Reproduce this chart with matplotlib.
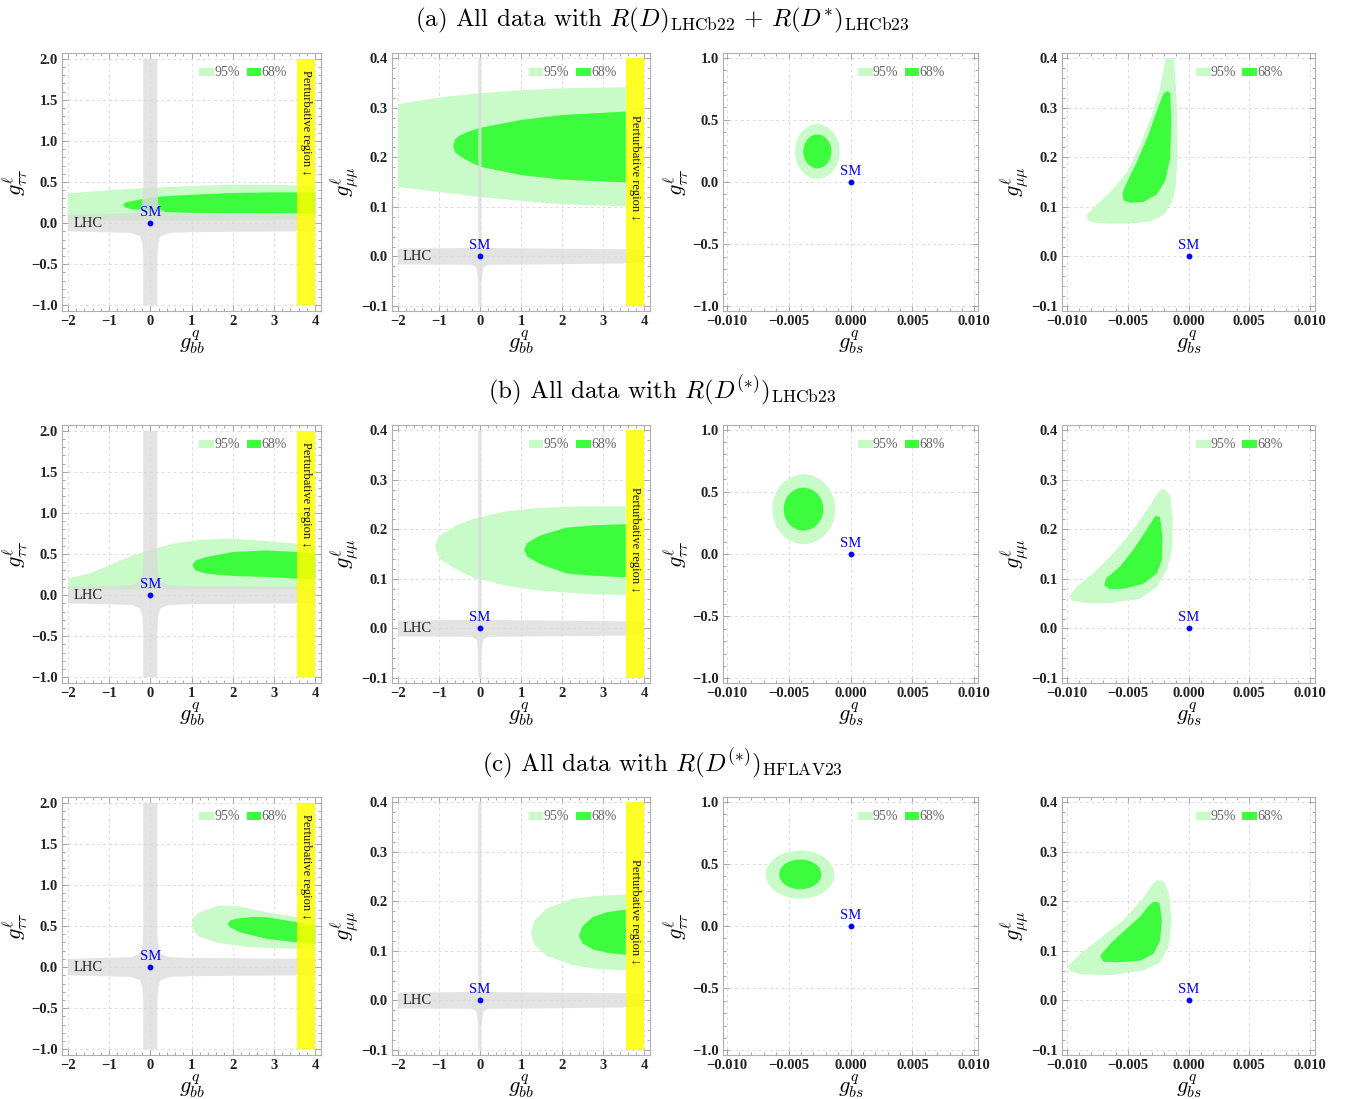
import numpy as np
import matplotlib
matplotlib.use('Agg')
import matplotlib.pyplot as plt
from matplotlib.patches import Polygon, Ellipse, Rectangle
from matplotlib.ticker import MultipleLocator, AutoMinorLocator, FuncFormatter

plt.rcParams['mathtext.fontset'] = 'cm'
plt.rcParams['font.family'] = ['Liberation Serif', 'DejaVu Serif']

# ---------------- data ----------------
row_titles = [r'(a) All data with $R(D)_{\rm LHCb22}\,+\,R(D^{*})_{\rm LHCb23}$',
              r'(b) All data with $R(D^{(*)})_{\rm LHCb23}$',
              r'(c) All data with $R(D^{(*)})_{\rm HFLAV23}$']
x_labels = [r'$g^{q}_{bb}$', r'$g^{q}_{bb}$', r'$g^{q}_{bs}$', r'$g^{q}_{bs}$']
y_labels = [r'$g^{\ell}_{\tau\tau}$', r'$g^{\ell}_{\mu\mu}$', r'$g^{\ell}_{\tau\tau}$', r'$g^{\ell}_{\mu\mu}$']
levels = ['95%', '68%']
sm_point = (0.0, 0.0)
pert_x = (3.55, 4.0)       # perturbative limit band in g_bb

# LHC allowed regions (g_bb plane)
LHC_TAU = [(-0.17, 2.0), (0.17, 2.0), (0.17, 0.45), (0.19, 0.25), (0.25, 0.16), (0.45, 0.12), (1.0, 0.11),
           (4.0, 0.10), (4.0, -0.10), (1.0, -0.11), (0.45, -0.12), (0.25, -0.16), (0.19, -0.25), (0.17, -0.45),
           (0.17, -1.0), (-0.17, -1.0), (-0.17, -0.45), (-0.19, -0.25), (-0.25, -0.16), (-0.45, -0.12),
           (-2.0, -0.10), (-2.0, 0.10), (-0.45, 0.12), (-0.25, 0.16), (-0.19, 0.25), (-0.17, 0.45)]
LHC_MU = [(-0.04, 0.4), (0.04, 0.4), (0.04, 0.03), (0.08, 0.02), (0.2, 0.017), (4.0, 0.014), (4.0, -0.014),
          (0.2, -0.017), (0.08, -0.022), (0.04, -0.05), (0.04, -0.1), (-0.04, -0.1), (-0.04, -0.05),
          (-0.08, -0.022), (-0.2, -0.017), (-2.0, -0.016), (-2.0, 0.016), (-0.2, 0.017), (-0.08, 0.02),
          (-0.04, 0.03)]

# column 1: g_bb vs g_tautau
A1_95 = [(-2, 0.36), (-1, 0.40), (0, 0.43), (1, 0.45), (2, 0.468), (3, 0.465), (4, 0.45),
         (4, 0.04), (2, 0.035), (0, 0.03), (-2, 0.04)]
A1_68 = [(-0.66, 0.22), (-0.6, 0.25), (-0.42, 0.27), (-0.1, 0.30), (0.2, 0.32), (1, 0.345), (2, 0.366),
         (3, 0.374), (4, 0.374), (4, 0.115), (3, 0.12), (2, 0.12), (1, 0.125), (0.3, 0.135), (-0.2, 0.16),
         (-0.45, 0.17), (-0.6, 0.19)]
B1_95 = [(-2, 0.2), (-1.49, 0.261), (-0.99, 0.362), (-0.42, 0.484), (-0.02, 0.544), (0.55, 0.625),
         (1.2, 0.674), (2.0, 0.686), (2.82, 0.657), (3.55, 0.625), (4.0, 0.605), (4.0, 0.07), (2, 0.07),
         (0, 0.07), (-2, 0.06)]
B1_68 = [(1.02, 0.362), (1.1, 0.42), (1.36, 0.463), (2.01, 0.524), (2.82, 0.544), (3.55, 0.524), (4, 0.504),
         (4, 0.192), (3.55, 0.2), (2.82, 0.221), (2.01, 0.233), (1.36, 0.261), (1.1, 0.30)]
C1_95 = [(1.0, 0.526), (1.05, 0.60), (1.2, 0.668), (1.68, 0.75), (2.17, 0.737), (2.82, 0.668), (3.55, 0.607),
         (4.0, 0.567), (4.0, 0.214), (3.55, 0.222), (2.41, 0.242), (1.68, 0.291), (1.2, 0.364), (1.05, 0.44)]
C1_68 = [(1.87, 0.526), (1.95, 0.57), (2.17, 0.595), (2.5, 0.61), (2.82, 0.607), (3.55, 0.547), (4.0, 0.506),
         (4.0, 0.283), (3.55, 0.303), (2.82, 0.344), (2.17, 0.425), (1.95, 0.48)]

# column 2: g_bb vs g_mumu
A2_95 = [(-2, 0.307), (-1, 0.32), (0, 0.329), (1, 0.335), (2, 0.339), (3.55, 0.341),
         (3.55, 0.101), (2, 0.105), (1, 0.112), (0, 0.12), (-1, 0.13), (-2, 0.14)]
A2_68 = [(-0.65, 0.223), (-0.6, 0.236), (-0.5, 0.243), (-0.3, 0.251), (0, 0.259), (1, 0.275), (2, 0.285),
         (3.55, 0.292), (3.55, 0.149), (2, 0.155), (1, 0.164), (0, 0.181), (-0.3, 0.193), (-0.5, 0.203),
         (-0.6, 0.21)]
B2_95 = [(-1.09, 0.165), (-1.03, 0.18), (-0.97, 0.187), (-0.6, 0.207), (-0.16, 0.221), (0.65, 0.236),
         (1.46, 0.243), (2.5, 0.246), (3.55, 0.246), (3.55, 0.067), (2.5, 0.07), (1.46, 0.076), (0.65, 0.086),
         (-0.16, 0.103), (-0.6, 0.12), (-0.97, 0.14), (-1.03, 0.15)]
B2_68 = [(1.08, 0.158), (1.15, 0.172), (1.46, 0.187), (2.1, 0.203), (2.8, 0.208), (3.55, 0.21),
         (3.55, 0.103), (2.8, 0.106), (2.1, 0.111), (1.46, 0.13), (1.15, 0.145)]
C2_95 = [(1.24, 0.137), (1.32, 0.16), (1.62, 0.185), (2.27, 0.205), (2.9, 0.211), (3.56, 0.213),
         (3.56, 0.061), (2.9, 0.063), (2.27, 0.071), (1.62, 0.09), (1.32, 0.113)]
C2_68 = [(2.41, 0.13), (2.5, 0.15), (2.75, 0.168), (3.1, 0.178), (3.55, 0.183),
         (3.55, 0.092), (3.1, 0.096), (2.75, 0.103), (2.5, 0.115)]

# column 3: g_bs vs g_tautau, (centre x, centre y, half width, half height)
A3_95 = (-0.00268, 0.245, 0.0018, 0.219)
A3_68 = (-0.00268, 0.246, 0.00113, 0.136)
B3_95 = (-0.00377, 0.36, 0.00254, 0.28)
B3_68 = (-0.0038, 0.361, 0.0016, 0.172)
C3_95 = (-0.00407, 0.413, 0.00277, 0.194)
C3_68 = (-0.00406, 0.415, 0.0017, 0.119)

# column 4: g_bs vs g_mumu
A4_95 = [(-0.00186, 0.4), (-0.00118, 0.4), (-0.00096, 0.306), (-0.0009, 0.204), (-0.00104, 0.142),
         (-0.00137, 0.108), (-0.00205, 0.084), (-0.00315, 0.0705), (-0.00507, 0.066), (-0.00671, 0.066),
         (-0.00795, 0.069), (-0.0083, 0.074), (-0.00836, 0.084), (-0.00781, 0.098), (-0.00644, 0.129),
         (-0.00507, 0.169), (-0.00397, 0.224), (-0.00301, 0.285), (-0.00233, 0.34)]
A4_68 = [(-0.00178, 0.333), (-0.00151, 0.33), (-0.00142, 0.272), (-0.00151, 0.197), (-0.00192, 0.152),
         (-0.0026, 0.125), (-0.0037, 0.11), (-0.00479, 0.108), (-0.00534, 0.113), (-0.00542, 0.128),
         (-0.00507, 0.149), (-0.00425, 0.19), (-0.00329, 0.245), (-0.00247, 0.302), (-0.00205, 0.328)]
B4_95 = [(-0.00205, 0.282), (-0.00151, 0.268), (-0.00129, 0.221), (-0.00137, 0.159), (-0.00178, 0.118),
         (-0.0026, 0.084), (-0.00397, 0.06), (-0.00644, 0.051), (-0.00836, 0.051), (-0.00959, 0.056),
         (-0.00978, 0.066), (-0.00918, 0.084), (-0.00781, 0.111), (-0.00616, 0.152), (-0.00452, 0.2),
         (-0.00315, 0.248), (-0.00247, 0.275)]
B4_68 = [(-0.00266, 0.227), (-0.00233, 0.224), (-0.00214, 0.186), (-0.00219, 0.138), (-0.0026, 0.111),
         (-0.0037, 0.09), (-0.00534, 0.08), (-0.00644, 0.079), (-0.00693, 0.087), (-0.00677, 0.101),
         (-0.00562, 0.125), (-0.00452, 0.159), (-0.00342, 0.2), (-0.00288, 0.221)]
C4_95 = [(-0.0026, 0.242), (-0.00205, 0.241), (-0.00164, 0.217), (-0.00137, 0.162), (-0.00164, 0.108),
         (-0.00233, 0.077), (-0.0037, 0.06), (-0.00644, 0.051), (-0.0089, 0.053), (-0.00978, 0.06),
         (-0.00986, 0.07), (-0.0089, 0.094), (-0.00726, 0.125), (-0.00534, 0.162), (-0.0037, 0.207),
         (-0.00301, 0.232)]
C4_68 = [(-0.00288, 0.199), (-0.00238, 0.197), (-0.00219, 0.162), (-0.00233, 0.121), (-0.00288, 0.094),
         (-0.00397, 0.08), (-0.00589, 0.077), (-0.00699, 0.078), (-0.00726, 0.09), (-0.00644, 0.114),
         (-0.00507, 0.145), (-0.00397, 0.169), (-0.00329, 0.19)]

regions = [[(A1_95, A1_68), (A2_95, A2_68), (A3_95, A3_68), (A4_95, A4_68)],
           [(B1_95, B1_68), (B2_95, B2_68), (B3_95, B3_68), (B4_95, B4_68)],
           [(C1_95, C1_68), (C2_95, C2_68), (C3_95, C3_68), (C4_95, C4_68)]]

# ---------------- style / layout ----------------
C95, C68 = '#c8fbc8', '#3dfb3d'
GRAY = '#dcdcdc'
YELLOW = '#ffff00'
cols_px = [(62, 321), (392, 650), (723, 978), (1062, 1315)]
rows_px = [(53, 311), (425, 683), (797, 1055)]
title_y = [20, 391, 764]
W, H = 1346, 1099

xlims = [(-2.14, 4.14), (-2.14, 4.14), (-0.0103, 0.0103), (-0.0104, 0.0104)]
ylims = [(-1.07, 2.07), (-0.11, 0.41), (-1.037, 1.037), (-0.11, 0.41)]
xsteps = [1, 1, 0.005, 0.005]
ysteps = [0.5, 0.1, 0.5, 0.1]
xdec = [0, 0, 3, 3]
ydec = [1, 1, 1, 1]


def fmt(dec):
    def f(v, pos):
        if abs(v) < 1e-12:
            v = 0.0
        return f'{v:.{dec}f}'.replace('-', '\u2212')
    return FuncFormatter(f)


fig = plt.figure(figsize=(W / 100, H / 100), dpi=100)

for r in range(3):
    fig.text(662 / W, 1 - title_y[r] / H, row_titles[r], ha='center', va='center', fontsize=18,
             family='cmr10')
    for c in range(4):
        x0, x1 = cols_px[c]
        y0, y1 = rows_px[r]
        ax = fig.add_axes([x0 / W, 1 - y1 / H, (x1 - x0) / W, (y1 - y0) / H])
        ax.set_xlim(*xlims[c])
        ax.set_ylim(*ylims[c])
        ax.set_axisbelow(True)

        r95, r68 = regions[r][c]
        if c == 2:
            for reg, col, z in ((r95, C95, 1), (r68, C68, 2)):
                ax.add_patch(Ellipse((reg[0], reg[1]), 2 * reg[2], 2 * reg[3], facecolor=col,
                                     edgecolor='none', zorder=z))
        else:
            ax.add_patch(Polygon(r95, closed=True, facecolor=C95, edgecolor='none', zorder=1))
            ax.add_patch(Polygon(r68, closed=True, facecolor=C68, edgecolor='none', zorder=2))

        if c in (0, 1):
            lhc = LHC_TAU if c == 0 else LHC_MU
            ax.add_patch(Polygon(lhc, closed=True, facecolor=GRAY, edgecolor='none', alpha=0.8, zorder=3))
            ylo, yhi = (-1.0, 2.0) if c == 0 else (-0.1, 0.4)
            ax.add_patch(Rectangle((pert_x[0], ylo), pert_x[1] - pert_x[0], yhi - ylo,
                                   facecolor=YELLOW, edgecolor='none', alpha=0.85, zorder=4))
            ax.text(sum(pert_x) / 2, 1.22 if c == 0 else 0.178, 'Perturbative region \u2193',
                    rotation=-90, ha='center', va='center', fontsize=9, color='#111111', zorder=5)
            ax.text(-1.87, 0.0, 'LHC', ha='left', va='center', fontsize=10.5, color='#222222', zorder=5)

        # SM point
        ax.plot([sm_point[0]], [sm_point[1]], 'o', color='#0000ff', ms=3.2, zorder=6)
        ax.annotate('SM', sm_point, xytext=(0, 3), textcoords='offset points', ha='center',
                    va='bottom', fontsize=10.5, color='#0000ff', zorder=6)

        # legend
        for k, (px, col) in enumerate(((0.53, C95), (0.713, C68))):
            ax.add_patch(Rectangle((px, 0.912), 0.057, 0.028, transform=ax.transAxes,
                                   facecolor=col, edgecolor='none', zorder=7))
            ax.text(px + 0.058, 0.926, levels[k], transform=ax.transAxes, ha='left', va='center',
                    fontsize=10, color='#666666', zorder=7)

        # frame and ticks
        ax.xaxis.set_major_locator(MultipleLocator(xsteps[c]))
        ax.yaxis.set_major_locator(MultipleLocator(ysteps[c]))
        ax.xaxis.set_minor_locator(AutoMinorLocator(5))
        ax.yaxis.set_minor_locator(AutoMinorLocator(5))
        ax.xaxis.set_major_formatter(fmt(xdec[c]))
        ax.yaxis.set_major_formatter(fmt(ydec[c]))
        ax.tick_params(which='both', direction='in', top=True, right=True, color='#9a9a9a', width=0.6)
        ax.tick_params(which='major', length=4, labelsize=10.5, labelcolor='#222222', pad=3)
        ax.tick_params(which='minor', length=2)
        for lab in ax.get_xticklabels() + ax.get_yticklabels():
            lab.set_fontweight('bold')
        for sp in ax.spines.values():
            sp.set_color('#b0b0b0')
            sp.set_linewidth(0.8)
        ax.grid(True, which='major', linestyle=(0, (3, 3)), color='#dddddd', linewidth=0.7)
        ax.set_xlabel(x_labels[c], fontsize=16, labelpad=0)
        ax.set_ylabel(y_labels[c], fontsize=16, labelpad=1)

fig.savefig('out.png', dpi=100)
